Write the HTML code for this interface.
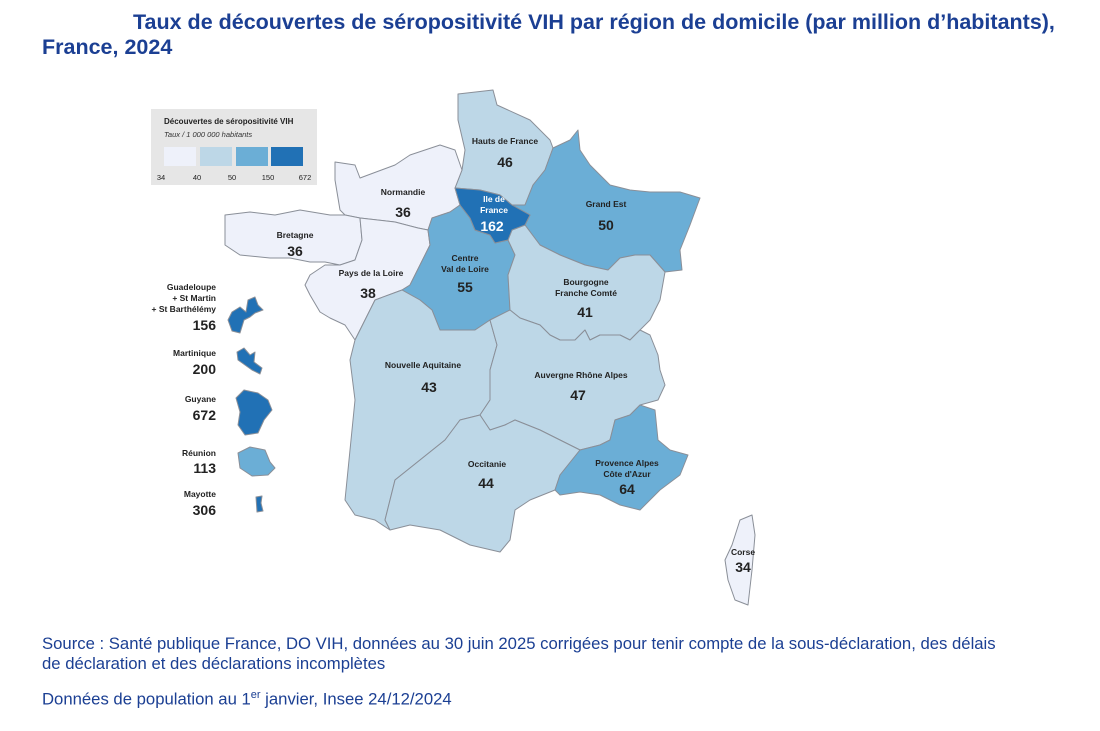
<!DOCTYPE html>
<html><head><meta charset="utf-8"><style>
body{margin:0;background:#fff;width:1100px;height:731px;overflow:hidden;font-family:"Liberation Sans",Arial,sans-serif;}
.t{position:absolute;color:#1b3f93;font-weight:bold;font-size:21.5px;white-space:nowrap;}
.s{position:absolute;color:#1b3f93;font-size:16.7px;white-space:nowrap;}
svg{position:absolute;left:0;top:0}
</style></head><body>
<div class="t" style="left:133px;top:10px">Taux de découvertes de séropositivité VIH par région de domicile (par million d’habitants),</div>
<div class="t" style="left:42px;top:35px">France, 2024</div>
<div class="s" style="left:42px;top:634px">Source : Santé publique France, DO VIH, données au 30 juin 2025 corrigées pour tenir compte de la sous-déclaration, des délais</div>
<div class="s" style="left:42px;top:654px">de déclaration et des déclarations incomplètes</div>
<div class="s" style="left:42px;top:689px">Données de population au 1<sup style="font-size:11px">er</sup> janvier, Insee 24/12/2024</div>
<svg width="1100" height="731" font-family="Liberation Sans,Arial,sans-serif" font-weight="bold">
<g stroke="#8a8f98" stroke-width="1" stroke-linejoin="round">
<polygon fill="#bdd7e7" points="458,94 493,90 497,105 530,120 550,140 553,148 545,170 533,185 525,205 512,205 500,195 480,190 455,188 462,170 465,150 458,120"/>
<polygon fill="#6baed6" points="553,148 570,140 578,130 580,150 590,165 610,185 630,190 650,192 680,192 700,198 690,225 680,250 682,270 665,272 650,255 635,255 620,258 608,270 585,265 560,255 540,245 525,225 530,215 512,205 525,205 533,185 545,170"/>
<polygon fill="#eef1fa" points="335,162 355,165 360,178 395,165 410,155 440,145 455,150 462,170 455,188 460,205 450,212 432,218 428,230 418,228 410,226 395,222 360,218 345,215 340,210 335,180"/>
<polygon fill="#eef1fa" points="225,215 250,212 275,215 300,210 330,215 345,215 360,218 362,240 355,260 340,265 325,262 310,262 290,258 270,258 240,255 225,245"/>
<polygon fill="#eef1fa" points="360,218 395,222 418,228 428,230 430,245 420,265 410,285 402,290 375,300 370,310 355,340 345,325 330,318 320,312 310,295 305,285 310,275 325,265 340,265 355,260 362,240"/>
<polygon fill="#6baed6" points="428,230 432,218 450,212 460,205 470,218 475,230 490,235 495,243 508,240 515,255 508,275 510,310 490,320 475,330 440,330 432,310 420,300 402,290 410,285 420,265 430,245"/>
<polygon fill="#bdd7e7" points="508,240 512,230 525,225 540,245 560,255 585,265 608,270 620,258 635,255 650,255 665,272 660,300 650,320 640,330 630,340 620,335 600,335 590,340 585,330 575,340 560,340 550,335 540,325 520,318 510,310 508,275 515,255"/>
<polygon fill="#bdd7e7" points="355,340 370,310 375,300 402,290 420,300 432,310 440,330 475,330 490,320 497,345 490,370 490,400 480,415 460,420 445,440 420,460 395,480 390,500 385,520 390,530 375,520 355,515 345,500 350,450 355,400 350,360"/>
<polygon fill="#bdd7e7" points="490,320 510,310 520,318 540,325 550,335 560,340 575,340 585,330 590,340 600,335 620,335 630,340 640,330 650,335 658,355 660,370 665,385 658,400 640,405 630,415 615,420 610,440 600,445 580,450 560,440 540,430 515,420 505,425 490,430 480,415 490,400 490,370 497,345"/>
<polygon fill="#bdd7e7" points="390,500 395,480 420,460 445,440 460,420 480,415 490,430 505,425 515,420 540,430 560,440 580,450 560,475 555,490 530,500 515,510 510,540 500,552 470,545 440,530 410,525 390,530 385,520"/>
<polygon fill="#6baed6" points="580,450 600,445 610,440 615,420 630,415 640,405 655,410 658,440 670,450 688,455 680,475 660,490 640,510 620,505 600,495 580,492 560,495 555,490 560,475"/>
<polygon fill="#2171b5" points="455,188 480,190 500,195 512,205 530,215 525,225 512,230 508,240 495,243 490,235 475,230 470,218 460,205"/>
<polygon fill="#eef1fa" points="740,520 752,515 755,535 752,570 748,605 735,600 728,580 725,560 732,545"/>
<path fill="#2171b5" d="M232,312 L240,307 L246,312 L248,300 L255,297 L258,305 L263,310 L255,313 L250,317 L244,320 L240,333 L232,331 L228,320Z"/>
<path fill="#2171b5" d="M237,352 L244,348 L250,355 L255,352 L254,362 L262,368 L260,374 L252,370 L245,365 L238,360Z"/>
<path fill="#2171b5" d="M236,398 L244,390 L258,393 L268,400 L272,410 L264,420 L258,433 L245,435 L238,425 L240,412Z"/>
<path fill="#6baed6" d="M238,453 L250,447 L265,450 L270,462 L275,468 L268,475 L252,476 L240,468Z"/>
<path fill="#2171b5" d="M256,497 L262,496 L261,503 L263,511 L257,512Z"/>
</g>
<rect x="151" y="109" width="166" height="76" fill="#e6e6e6"/>
<text x="164" y="124" font-size="8" fill="#222">Découvertes de séropositivité VIH</text>
<text x="164" y="137" font-size="7.5" fill="#333" font-weight="normal" font-style="italic">Taux / 1 000 000 habitants</text>
<rect x="164" y="147" width="32" height="19" fill="#eef1fa"/>
<rect x="200" y="147" width="32" height="19" fill="#bdd7e7"/>
<rect x="236" y="147" width="32" height="19" fill="#6baed6"/>
<rect x="271" y="147" width="32" height="19" fill="#2171b5"/>
<g font-size="7.5" font-weight="normal" fill="#222" text-anchor="middle">
<text x="161" y="180">34</text><text x="197" y="180">40</text><text x="232" y="180">50</text><text x="268" y="180">150</text><text x="305" y="180">672</text>
</g>
<g text-anchor="middle" fill="#222">
<g font-size="8.5"><text x="505" y="144">Hauts de France</text><text x="403" y="195">Normandie</text><text x="295" y="238">Bretagne</text><text x="606" y="207">Grand Est</text><text x="371" y="276">Pays de la Loire</text><text x="465" y="261">Centre</text><text x="465" y="272">Val de Loire</text><text x="586" y="285">Bourgogne</text><text x="586" y="296">Franche Comté</text><text x="423" y="368">Nouvelle Aquitaine</text><text x="581" y="378">Auvergne Rhône Alpes</text><text x="487" y="467">Occitanie</text><text x="627" y="466">Provence Alpes</text><text x="627" y="477">Côte d'Azur</text><text x="743" y="555">Corse</text></g>
<g font-size="14"><text x="505" y="167">46</text><text x="403" y="217">36</text><text x="295" y="256">36</text><text x="606" y="230">50</text><text x="368" y="298">38</text><text x="465" y="292">55</text><text x="585" y="317">41</text><text x="429" y="392">43</text><text x="578" y="400">47</text><text x="486" y="488">44</text><text x="627" y="494">64</text><text x="743" y="572">34</text></g>
<text x="494" y="202" font-size="8.5" fill="#fff">Ile de</text><text x="494" y="213" font-size="8.5" fill="#fff">France</text><text x="492" y="231" font-size="14" fill="#fff">162</text>
</g>
<g text-anchor="end" fill="#222">
<g font-size="8.5"><text x="216" y="290">Guadeloupe</text><text x="216" y="301">+ St Martin</text><text x="216" y="312">+ St Barthélémy</text><text x="216" y="356">Martinique</text><text x="216" y="402">Guyane</text><text x="216" y="456">Réunion</text><text x="216" y="497">Mayotte</text></g>
<g font-size="14"><text x="216" y="330">156</text><text x="216" y="374">200</text><text x="216" y="420">672</text><text x="216" y="473">113</text><text x="216" y="515">306</text></g>
</g>
</svg>
</body></html>
